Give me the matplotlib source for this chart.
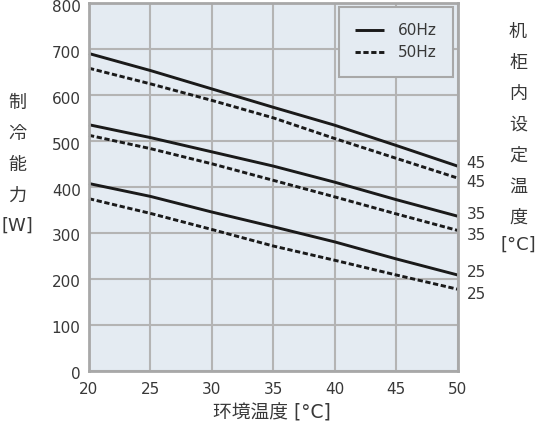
import matplotlib
matplotlib.use("Agg")
import matplotlib.pyplot as plt
from matplotlib.transforms import ScaledTranslation

plt.rcParams['font.family'] = ['DejaVu Sans', 'Noto Sans CJK JP']

x_temp = [20, 25, 30, 35, 40, 45, 50]
hz60_45 = [690, 653, 613, 573, 534, 490, 445]
hz50_45 = [658, 624, 588, 550, 505, 462, 419]
hz60_35 = [535, 507, 476, 445, 410, 372, 336]
hz50_35 = [512, 483, 450, 414, 378, 341, 305]
hz60_25 = [407, 379, 345, 313, 280, 243, 208]
hz50_25 = [374, 342, 307, 271, 240, 208, 177]
cab_labels = ["45", "35", "25"]
x_ticks = [20, 25, 30, 35, 40, 45, 50]
y_ticks = [0, 100, 200, 300, 400, 500, 600, 700, 800]

txt = '#383838'
W, H = 536, 426
fig = plt.figure(figsize=(W/100, H/100), dpi=100)
ax = fig.add_axes([89/W, 1 - 370.5/H, (457.5-89)/W, (370.5-3)/H])
ax.set_facecolor('#e4ebf2')
ax.set_xlim(20, 50)
ax.set_ylim(0, 800)
ax.set_xticks(x_ticks)
ax.set_yticks(y_ticks)
ax.grid(True, color='#b4b4b4', linewidth=1.5)
ax.set_axisbelow(True)
for s in ax.spines.values():
    s.set_color('#a8a8a8')
    s.set_linewidth(2)
ax.tick_params(length=0, labelsize=11, labelcolor=txt)
ax.tick_params(axis='y', pad=6)
ax.tick_params(axis='x', pad=8)
for lab in ax.get_yticklabels():
    lab.set_transform(lab.get_transform() + ScaledTranslation(0, -2/72, fig.dpi_scale_trans))

pairs = [(hz60_45, hz50_45), (hz60_35, hz50_35), (hz60_25, hz50_25)]
for i, (s60, s50) in enumerate(pairs):
    ax.plot(x_temp, s60, color='#1a1a1a', lw=2.1, ls='-', label='60Hz' if i == 0 else None,
            solid_capstyle='butt', clip_on=False)
    ax.plot(x_temp, s50, color='#1a1a1a', lw=2.1, ls=(0, (1.8, 0.9)), label='50Hz' if i == 0 else None,
            dash_capstyle='butt', clip_on=False)
    ax.annotate(cab_labels[i], (x_temp[-1], s60[-1]), xytext=(6.5, 1.5), textcoords='offset points',
                ha='left', va='center', fontsize=11, color=txt, annotation_clip=False)
    ax.annotate(cab_labels[i], (x_temp[-1], s50[-1]), xytext=(6.5, -3.5), textcoords='offset points',
                ha='left', va='center', fontsize=11, color=txt, annotation_clip=False)

leg = ax.legend(loc='upper right', bbox_to_anchor=(0.988, 0.99), fontsize=11, frameon=True,
                fancybox=False, handlelength=1.85, handletextpad=0.9, borderpad=1.1,
                labelspacing=0.45, borderaxespad=0)
leg.get_frame().set_facecolor('#e4ebf2')
leg.get_frame().set_edgecolor('#a8a8a8')
leg.get_frame().set_linewidth(1.5)
leg.get_frame().set_alpha(1)
for t in leg.get_texts():
    t.set_color(txt)

fig.text(272/W, 1 - 413/H, '环境温度 [°C]', ha='center', va='center', fontsize=13.5, color=txt)

left = ['制', '冷', '能', '力', '[W]']
ly = [103, 134, 165, 196, 226]
for c, y in zip(left, ly):
    fig.text(17/W, 1 - y/H, c, ha='center', va='center', fontsize=13, color=txt)

right = ['机', '柜', '内', '设', '定', '温', '度', '[°C]']
ry = [32, 63, 94, 125, 156, 187, 218, 245]
for c, y in zip(right, ry):
    fig.text(518/W, 1 - y/H, c, ha='center', va='center', fontsize=13, color=txt)

fig.savefig('out.png', dpi=100)
